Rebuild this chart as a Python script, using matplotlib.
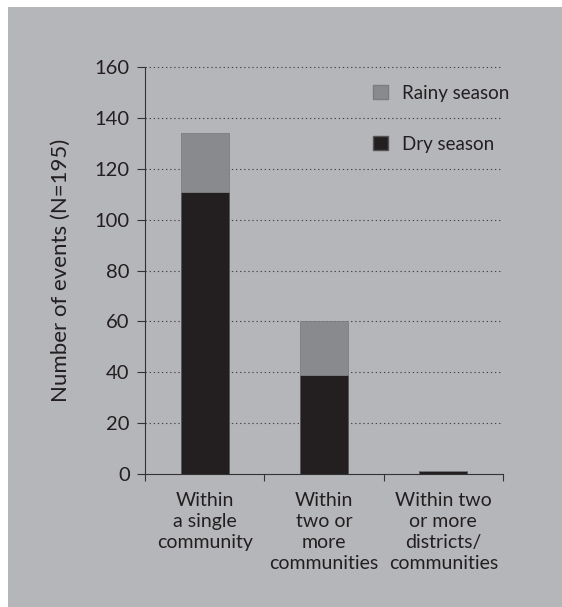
import matplotlib
matplotlib.use("Agg")
import matplotlib.pyplot as plt
from matplotlib.patches import Rectangle, Patch
import numpy as np

# Event counts (total N=195)
categories = ["Within\na single\ncommunity",
              "Within\ntwo or\nmore\ncommunities",
              "Within two\nor more\ndistricts/\ncommunities"]
dry_season = [111, 39, 1]
rainy_season = [23, 21, 0]
y_ticks = [0, 20, 40, 60, 80, 100, 120, 140, 160]

BG = "#b5b6b9"
TEXT = "#231f20"
RAINY = "#898a8d"
DRY = "#231f20"

plt.rcParams["font.family"] = ["Lato", "DejaVu Sans"]

fig = plt.figure(figsize=(5.62, 6.07), dpi=100, facecolor="white")
fig.patches.append(Rectangle((8 / 562, 0), 1, 600 / 607, transform=fig.transFigure,
                             facecolor=BG, edgecolor="none", zorder=-10))

ax = fig.add_axes([145 / 562, 1 - 474 / 607, 358 / 562, 407 / 607])
ax.set_facecolor("none")

x = np.arange(len(categories)) + 0.5
ax.bar(x, dry_season, width=0.4, color=DRY, edgecolor="#555555", linewidth=0.6, zorder=3)
ax.bar(x, rainy_season, width=0.4, bottom=dry_season, color=RAINY,
       edgecolor="#7c7d80", linewidth=0.6, zorder=3)

ax.set_xlim(0, 3)
ax.set_ylim(0, 160)
ax.set_yticks(y_ticks)
ax.set_xticks([0, 1, 2, 3])
ax.set_xticklabels([])
for xi, lab in zip(x, categories):
    ax.text(xi, -7, lab, ha="center", va="top", fontsize=14, color=TEXT,
            linespacing=1.3)

ax.tick_params(axis="y", direction="out", length=6, width=0.8, color="#333333",
               labelsize=14.5, labelcolor=TEXT, pad=5)
ax.tick_params(axis="x", direction="out", length=5, width=0.8, color="#333333")

for side in ["top", "right"]:
    ax.spines[side].set_visible(False)
for side in ["left", "bottom"]:
    ax.spines[side].set_color("#333333")
    ax.spines[side].set_linewidth(0.8)

# dotted gridlines stop just short of the x-axis end
for v in y_ticks[1:]:
    ax.plot([0, 2.98], [v, v], linestyle=(0, (1.2, 2.5)), color="#444444",
            linewidth=0.8, zorder=1, clip_on=False)

ax.set_ylabel("Number of events (N=195)", fontsize=16, color=TEXT, labelpad=17)

handles = [Patch(facecolor=RAINY, edgecolor="#7c7d80", label="Rainy season"),
           Patch(facecolor=DRY, edgecolor="#555555", label="Dry season")]
ax.legend(handles=handles, loc="upper left", bbox_to_anchor=(0.59, 0.998),
          frameon=False, fontsize=13.5, labelcolor=TEXT, handlelength=0.8,
          handleheight=0.8, handletextpad=0.75, labelspacing=1.82)

fig.savefig("out.png", dpi=100, facecolor="white")
